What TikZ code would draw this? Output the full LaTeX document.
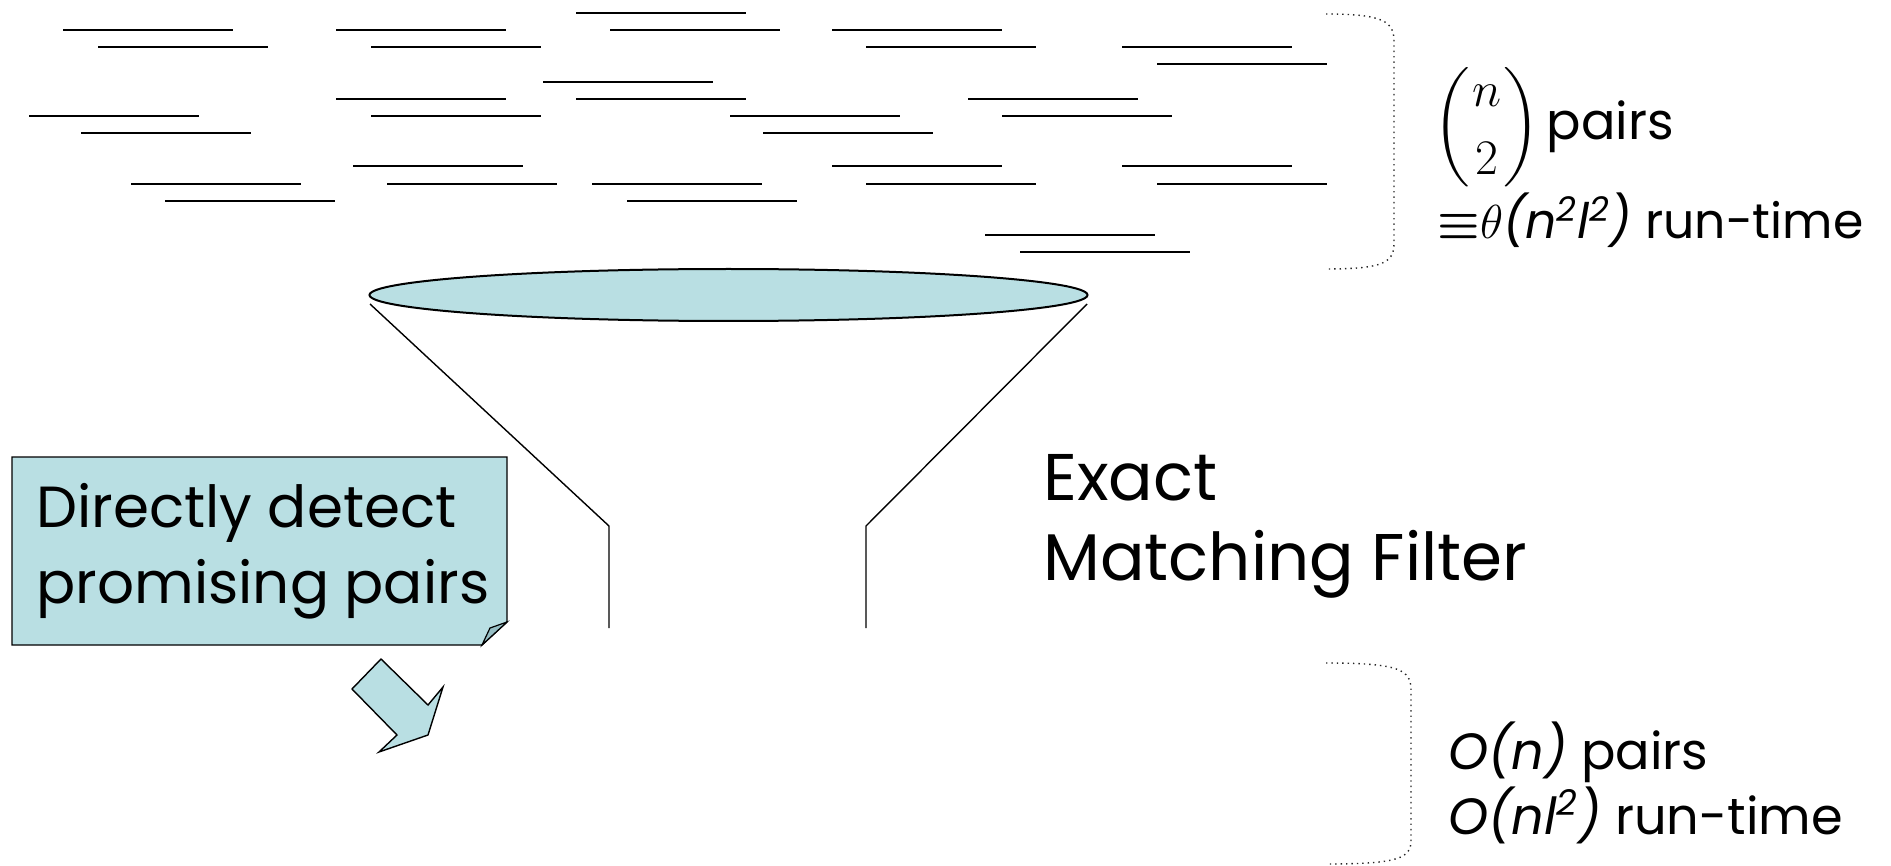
\documentclass[tikz,border=0pt]{standalone}
\usepackage{amsmath}
\usepackage{fontspec}
\setmainfont{Poppins}
\usetikzlibrary{shapes.geometric}
\definecolor{tealfill}{RGB}{185,223,227}
\definecolor{foldfill}{RGB}{150,190,196}
\tikzset{
  seg/.style={line width=1.1pt, black},
  funnelline/.style={line width=0.7pt, black},
  brace/.style={line width=0.7pt, dotted, black!85},
  boxtext/.style={anchor=base west, inner sep=0pt, font=\fontsize{29}{35}\selectfont},
  bigtext/.style={anchor=base west, inner sep=0pt, font=\fontsize{33}{40}\selectfont},
  sidetext/.style={anchor=base west, inner sep=0pt, font=\fontsize{25.5}{31}\selectfont},
}
\begin{document}
\begin{tikzpicture}[x=0.5pt,y=-0.5pt]
\useasboundingbox (0,0) rectangle (1891,866);
% segments
\foreach \x/\y in {576/13,
  63/30,336/30,610/30,832/30,
  98/47,371/47,866/47,1122/47,
  1157/64,
  543/82,
  336/99,576/99,968/99,
  29/116,371/116,730/116,1002/116,
  81/133,763/133,
  353/166,832/166,1122/166,
  131/184,387/184,592/184,866/184,1157/184,
  165/201,627/201,
  985/235,
  1020/252}
  \draw[seg] (\x,\y) -- ++(170,0);
% braces
\draw[brace] (1326,14) .. controls (1385,14) and (1394,22) .. (1394,42) -- (1394,243) .. controls (1394,262) and (1385,269) .. (1326,269);
\draw[brace] (1326,663) .. controls (1400,663) and (1411,670) .. (1411,690) -- (1411,840) .. controls (1411,858) and (1400,864) .. (1326,864);
% funnel
\node[ellipse, draw, line width=1pt, fill=tealfill, minimum width=359pt, minimum height=26pt, inner sep=0pt] (rim) at (728.5,295) {};
\coordinate (lt) at (370,304);
\coordinate (lm) at (609,526);
\coordinate (lb) at (609,628);
\coordinate (rt) at (1087,304);
\coordinate (rm) at (866,526);
\coordinate (rb) at (866,628);
\draw[funnelline] (lt) -- (lm) -- (lb);
\draw[funnelline] (rt) -- (rm) -- (rb);
% callout note
\draw[line width=0.7pt, fill=tealfill] (12,457) -- (507,457) -- (507,622) -- (482,645) -- (12,645) -- cycle;
\draw[line width=0.6pt, fill=foldfill] (507,622) -- (490,628) -- (482,645) -- cycle;
\node[boxtext] (d1) at (36,527) {Directly detect};
\node[boxtext] (d2) at (36,603) {promising pairs};
% block arrow
\draw[line width=0.7pt, fill=tealfill] (381,659) -- (428,705) -- (443,687) -- (428,735) -- (379,752) -- (397,735) -- (352,689) -- cycle;
% filter label
\node[bigtext] (e1) at (1043,500) {Exact};
\node[bigtext] (e2) at (1043,580) {Matching Filter};
% top right
\node[sidetext] (t1) at (1433,140) {$\left(\genfrac{}{}{0pt}{0}{n}{2}\vcenter{\hbox{\rule{0pt}{60pt}}}\right)$\hspace{3pt}pairs};
\node[sidetext] (t2) at (1437,239) {\resizebox{213pt}{!}{${\boldsymbol{\equiv}}\theta$\textit{(n\textsuperscript{2}l\textsuperscript{2})} run-time}};
% bottom right
\node[sidetext] (b1) at (1448,769) {\textit{O(n)} pairs};
\node[sidetext] (b2) at (1448,834) {\textit{O(nl\textsuperscript{2})} run-time};
\end{tikzpicture}
\end{document}
